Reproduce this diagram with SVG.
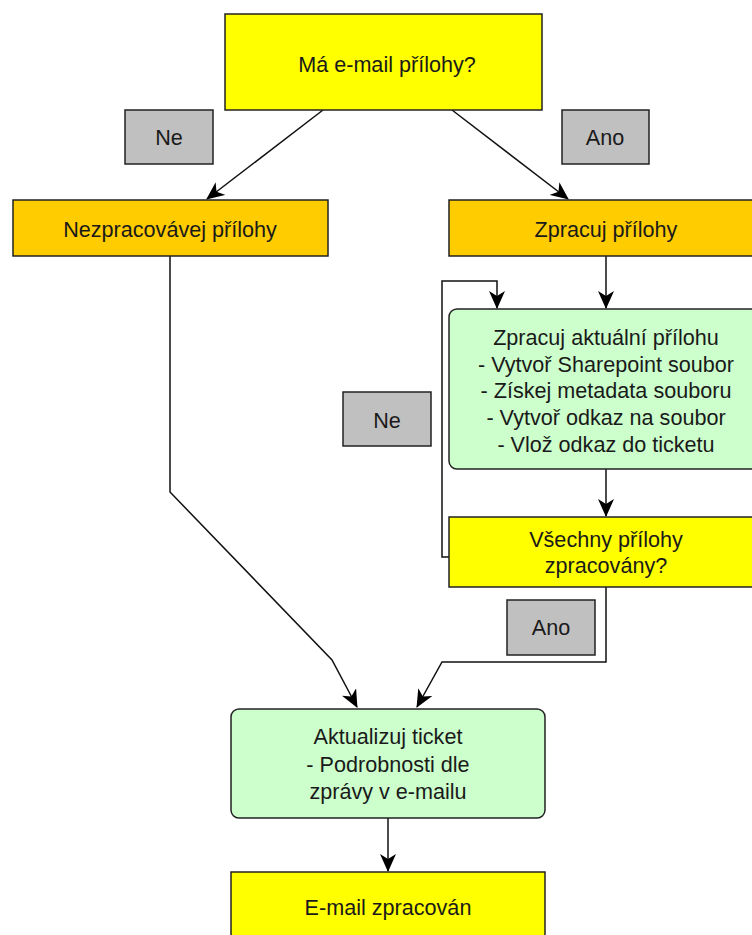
<svg xmlns="http://www.w3.org/2000/svg" width="752" height="935" viewBox="0 0 752 935">
  <style>
    .box { stroke: #222; stroke-width: 1.5; }
    .decision { fill: #FFFF00; }
    .step { fill: #FFCC00; }
    .task { fill: #CCFFCC; }
    .label { fill: #C0C0C0; }
    text { font-family: "Liberation Sans", Arial, sans-serif; font-size: 21.6px; fill: #1a1a1a; text-anchor: middle; }
    .edge { fill: none; stroke: #111; stroke-width: 1.5; }
  </style>
  <defs>
    <marker id="arrow" markerUnits="userSpaceOnUse" viewBox="0 0 18 16" markerWidth="18" markerHeight="16" refX="17" refY="8" orient="auto">
      <path d="M0,0 L18,8 L0,16 L5,8 Z" fill="#000"/>
    </marker>
  </defs>
  <rect width="752" height="935" fill="#fff"/>

  <!-- connectors -->
  <g id="connectors">
    <path class="edge" d="M323,110 L207,199" marker-end="url(#arrow)"/>
    <path class="edge" d="M452,110 L568,199" marker-end="url(#arrow)"/>
    <path class="edge" d="M606,256 L606,308" marker-end="url(#arrow)"/>
    <path class="edge" d="M606,469 L606,516" marker-end="url(#arrow)"/>
    <path class="edge" d="M449,557 L442,557 L442,281 L497,281 L497,308" marker-end="url(#arrow)"/>
    <path class="edge" d="M170,256 L170,492 L332,660 L357,707" marker-end="url(#arrow)"/>
    <path class="edge" d="M606,587 L606,662 L442,662 L417,707" marker-end="url(#arrow)"/>
    <path class="edge" d="M388,818 L388,871" marker-end="url(#arrow)"/>
  </g>

  <g id="has-attachments">
    <rect class="box decision" x="225" y="14" width="317" height="96"/>
    <text x="387" y="72">Má e-mail přílohy?</text>
  </g>

  <g id="label-ne-1">
    <rect class="box label" x="125" y="110" width="88" height="54"/>
    <text x="169" y="145">Ne</text>
  </g>

  <g id="label-ano-1">
    <rect class="box label" x="562" y="110" width="87" height="54"/>
    <text x="605" y="145">Ano</text>
  </g>

  <g id="skip-attachments">
    <rect class="box step" x="13" y="200" width="315" height="56"/>
    <text x="170" y="237">Nezpracovávej přílohy</text>
  </g>

  <g id="process-attachments">
    <rect class="box step" x="449" y="200" width="315" height="56"/>
    <text x="606" y="237">Zpracuj přílohy</text>
  </g>

  <g id="process-current">
    <rect class="box task" x="449" y="309" width="315" height="160" rx="8"/>
    <text x="606" y="345">Zpracuj aktuální přílohu</text>
    <text x="606" y="372">- Vytvoř Sharepoint soubor</text>
    <text x="606" y="398">- Získej metadata souboru</text>
    <text x="606" y="425">- Vytvoř odkaz na soubor</text>
    <text x="606" y="452">- Vlož odkaz do ticketu</text>
  </g>

  <g id="label-ne-2">
    <rect class="box label" x="343" y="392" width="88" height="54"/>
    <text x="387" y="428">Ne</text>
  </g>

  <g id="all-processed">
    <rect class="box decision" x="449" y="517" width="315" height="70"/>
    <text x="606" y="547">Všechny přílohy</text>
    <text x="606" y="573">zpracovány?</text>
  </g>

  <g id="label-ano-2">
    <rect class="box label" x="507" y="600" width="88" height="55"/>
    <text x="551" y="635">Ano</text>
  </g>

  <g id="update-ticket">
    <rect class="box task" x="231" y="709" width="314" height="109" rx="8"/>
    <text x="388" y="744">Aktualizuj ticket</text>
    <text x="388" y="772">- Podrobnosti dle</text>
    <text x="388" y="799">zprávy v e-mailu</text>
  </g>

  <g id="email-done">
    <rect class="box decision" x="231" y="872" width="314" height="80"/>
    <text x="388" y="915">E-mail zpracován</text>
  </g>
</svg>
